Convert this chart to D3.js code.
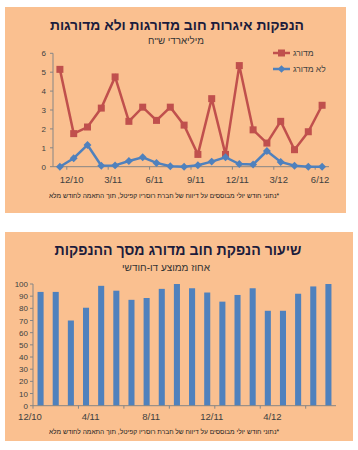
<!DOCTYPE html>
<html lang="he">
<head>
<meta charset="utf-8">
<script src="https://cdn.jsdelivr.net/npm/d3@7/dist/d3.min.js"></script>
<style>
  html,body{margin:0;padding:0;background:#fff;}
  svg{display:block;font-family:"Liberation Sans",Arial,sans-serif;}
</style>
</head>
<body>
<svg id="chart" width="358" height="450"></svg>
<script>
// ---------- DATA ----------
const lineMonths = ["11/10","12/10","1/11","2/11","3/11","4/11","5/11","6/11","7/11","8/11","9/11","10/11","11/11","12/11","1/12","2/12","3/12","4/12","5/12","6/12"];
const ratedValues   = [5.15,1.75,2.1,3.1,4.75,2.4,3.15,2.45,3.15,2.2,0.65,3.6,0.65,5.35,1.95,1.25,2.4,0.9,1.85,3.25];
const unratedValues = [0,0.45,1.15,0.05,0.07,0.3,0.5,0.2,0.02,0,0.08,0.27,0.5,0.14,0.12,0.83,0.25,0.05,0,0];
const lineTickLabels = ["12/10","3/11","6/11","9/11","12/11","3/12","6/12"];
const lineYTicks = [0,1,2,3,4,5,6];
const seriesNames = ["מדורג","לא מדורג"];

const barMonths = ["12/10","1/11","2/11","3/11","4/11","5/11","6/11","7/11","8/11","9/11","10/11","11/11","12/11","1/12","2/12","3/12","4/12","5/12","6/12","7/12"];
const barValues = [93.5,93.5,70,80.5,98.5,94.5,87,88.5,96,100,96.5,93,85.5,91,96.5,78,78,92,98,100];
const barTickLabels = ["12/10","4/11","8/11","12/11","4/12"];
const barYTicks = [0,10,20,30,40,50,60,70,80,90,100];

const title1 = "הנפקות איגרות חוב מדורגות ולא מדורגות";
const subtitle1 = "מיליארדי ש\"ח";
const title2 = "שיעור הנפקת חוב מדורג מסך ההנפקות";
const subtitle2 = "אחוז ממוצע דו-חודשי";
const footnote = "*נתוני חודש יולי מבוססים על דיווח של חברת רוסריו קפיטל, תוך התאמה לחודש מלא";

// ---------- STYLE ----------
const BG = "#FAC090", RED = "#C0504D", BLUE = "#4F81BD", AXIS = "#868686", TXT = "#404040", TITLE = "#1c1c3c";

const svg = d3.select("#chart");

// text helper: fit text to a target width by adjusting font size
function fitText(sel, width){
  const node = sel.node();
  const fs = parseFloat(sel.attr("font-size"));
  const w = node.getComputedTextLength();
  if (w > 0) sel.attr("font-size", (fs * width / w).toFixed(2));
  return sel;
}

// ================= TOP PANEL =================
svg.append("rect").attr("x",5).attr("y",7).attr("width",341).attr("height",206).attr("fill",BG);

fitText(svg.append("text").attr("x",177).attr("y",30).attr("text-anchor","middle")
  .attr("direction","rtl").attr("font-size",14.5).attr("font-weight","bold").attr("fill",TITLE).text(title1), 254);
fitText(svg.append("text").attr("x",176).attr("y",44).attr("text-anchor","middle")
  .attr("direction","rtl").attr("font-size",10).attr("fill","#333").text(subtitle1), 56);

const x1 = d3.scaleBand().domain(lineMonths).range([53,329]);
const y1 = d3.scaleLinear().domain([0,6]).range([166.7,53.3]);
const cx = d => x1(d) + x1.bandwidth()/2;

const g1 = svg.append("g");
g1.append("line").attr("x1",53).attr("x2",53).attr("y1",y1(6)).attr("y2",y1(0)).attr("stroke",AXIS);
lineYTicks.forEach(t=>{
  g1.append("line").attr("x1",50).attr("x2",53).attr("y1",y1(t)).attr("y2",y1(t)).attr("stroke",AXIS);
  g1.append("text").attr("x",46).attr("y",y1(t)+3).attr("text-anchor","end").attr("font-size",8).attr("fill",TXT).text(t);
});
g1.append("line").attr("x1",53).attr("x2",329).attr("y1",y1(0)).attr("y2",y1(0)).attr("stroke",AXIS);
lineMonths.forEach((m,i)=>{
  if(i%3===1){
    g1.append("line").attr("x1",x1(m)).attr("x2",x1(m)).attr("y1",y1(0)).attr("y2",y1(0)+3).attr("stroke",AXIS);
  }
});
lineTickLabels.forEach(m=>{
  g1.append("text").attr("x",cx(m)-2).attr("y",183).attr("text-anchor","middle").attr("font-size",9.5).attr("fill",TXT).text(m);
});

const lineGen = d3.line().x((d,i)=>cx(lineMonths[i])).y(d=>y1(d));
g1.append("path").datum(ratedValues).attr("d",lineGen).attr("fill","none").attr("stroke",RED).attr("stroke-width",2.5);
g1.selectAll("rect.mk").data(ratedValues).enter().append("rect")
  .attr("x",(d,i)=>cx(lineMonths[i])-3.5).attr("y",d=>y1(d)-3.5).attr("width",7).attr("height",7).attr("fill",RED);
g1.append("path").datum(unratedValues).attr("d",lineGen).attr("fill","none").attr("stroke",BLUE).attr("stroke-width",2.5);
g1.selectAll("path.dm").data(unratedValues).enter().append("path")
  .attr("d",d3.symbol().type(d3.symbolDiamond2).size(40))
  .attr("transform",(d,i)=>`translate(${cx(lineMonths[i])},${y1(d)})`).attr("fill",BLUE);

// legend
const legY = [53,69];
[RED,BLUE].forEach((c,i)=>{
  g1.append("line").attr("x1",273).attr("x2",290).attr("y1",legY[i]).attr("y2",legY[i]).attr("stroke",c).attr("stroke-width",2.5);
  if(i===0) g1.append("rect").attr("x",278).attr("y",legY[i]-3.5).attr("width",7).attr("height",7).attr("fill",c);
  else g1.append("path").attr("d",d3.symbol().type(d3.symbolDiamond2).size(36)).attr("transform",`translate(281.5,${legY[i]})`).attr("fill",c);
  g1.append("text").attr("x",293).attr("y",legY[i]+3).attr("text-anchor","start").attr("font-size",8.5).attr("fill",TXT).text(seriesNames[i]);
});

fitText(svg.append("text").attr("x",164).attr("y",198).attr("text-anchor","middle").attr("direction","rtl")
  .attr("font-size",7.5).attr("fill","#222").text(footnote), 230);

// ================= BOTTOM PANEL =================
svg.append("rect").attr("x",5).attr("y",232).attr("width",348).attr("height",209).attr("fill",BG);
fitText(svg.append("text").attr("x",178).attr("y",255).attr("text-anchor","middle").attr("direction","rtl")
  .attr("font-size",14.5).attr("font-weight","bold").attr("fill",TITLE).text(title2), 247);
fitText(svg.append("text").attr("x",166).attr("y",271).attr("text-anchor","middle").attr("direction","rtl")
  .attr("font-size",10).attr("fill","#333").text(subtitle2), 88);

const x2 = d3.scaleBand().domain(barMonths).range([33,336]).paddingInner(0.6).paddingOuter(0.3);
const x2b = d3.scaleBand().domain(barMonths).range([33,336]);
const y2 = d3.scaleLinear().domain([0,100]).range([405.7,284]);
const g2 = svg.append("g");

g2.selectAll("rect.bar").data(barValues).enter().append("rect")
  .attr("x",(d,i)=>x2(barMonths[i])).attr("width",x2.bandwidth())
  .attr("y",d=>y2(d)).attr("height",d=>y2(0)-y2(d)).attr("fill",BLUE);

g2.append("line").attr("x1",33).attr("x2",33).attr("y1",y2(100)).attr("y2",y2(0)).attr("stroke",AXIS);
barYTicks.forEach(t=>{
  g2.append("line").attr("x1",30).attr("x2",33).attr("y1",y2(t)).attr("y2",y2(t)).attr("stroke",AXIS);
  g2.append("text").attr("x",28).attr("y",y2(t)+3).attr("text-anchor","end").attr("font-size",8).attr("fill",TXT).text(t);
});
g2.append("line").attr("x1",33).attr("x2",336).attr("y1",y2(0)).attr("y2",y2(0)).attr("stroke",AXIS);
barMonths.forEach((m,i)=>{
  if(i%3===0){
    g2.append("line").attr("x1",x2b(m)).attr("x2",x2b(m)).attr("y1",y2(0)).attr("y2",y2(0)+3).attr("stroke",AXIS);
  }
});
barTickLabels.forEach(m=>{
  g2.append("text").attr("x",x2b(m)-3).attr("y",420).attr("text-anchor","middle").attr("font-size",9.5).attr("fill",TXT).text(m);
});
fitText(svg.append("text").attr("x",164).attr("y",434).attr("text-anchor","middle").attr("direction","rtl")
  .attr("font-size",7.5).attr("fill","#222").text(footnote), 230);
</script>
</body>
</html>
